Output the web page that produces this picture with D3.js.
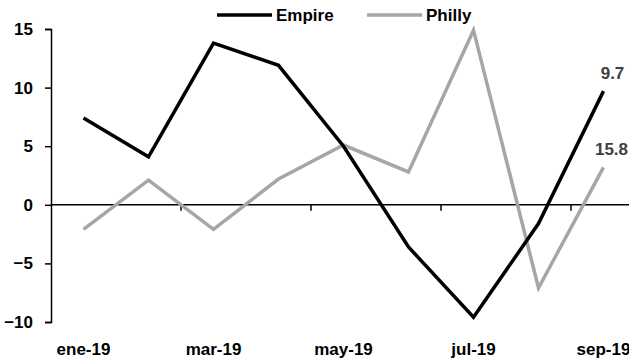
<!DOCTYPE html>
<html>
<head>
<meta charset="utf-8">
<script src="https://cdn.jsdelivr.net/npm/d3@7"></script>
<style>
  body { margin: 0; background: #fff; }
  svg { display: block; font-family: "Liberation Sans", Arial, sans-serif; font-weight: bold; }
</style>
</head>
<body>
<svg id="chart" width="629" height="360"></svg>
<script>
// data
const months = ['ene-19', 'feb-19', 'mar-19', 'abr-19', 'may-19', 'jun-19', 'jul-19', 'ago-19', 'sep-19'];
const empire = [7.4, 4.1, 13.8, 11.9, 5.0, -3.6, -9.6, -1.6, 9.7];
const philly = [-2.1, 2.1, -2.1, 2.2, 5.1, 2.8, 14.9, -7.1, 3.2];
const yTicks = [-10, -5, 0, 5, 10, 15];
const xLabels = ['ene-19', 'mar-19', 'may-19', 'jul-19', 'sep-19'];
const lastLabels = ['9.7', '15.8'];

const svg = d3.select('#chart');
const MARGIN = { left: 51, top: 29, bottom: 322 };
const FONT = '"Liberation Sans", Arial, sans-serif';

const x = d3.scaleBand()
    .domain(months)
    .range([MARGIN.left, MARGIN.left + 65 * months.length])
    .padding(0);

const y = d3.scaleLinear()
    .domain([-10, 15])
    .range([MARGIN.bottom, MARGIN.top]);

const cx = m => x(m) + x.bandwidth() / 2;

// y axis
let yAxis = d3.axisLeft(y).tickValues(yTicks).tickSize(6).tickPadding(12);
let yG = svg.append('g')
    .attr('transform', `translate(${MARGIN.left},0)`)
    .call(yAxis);
yG.select('.domain').attr('stroke', '#000').attr('stroke-width', 1.5);
yG.selectAll('.tick line').attr('stroke', '#000').attr('stroke-width', 1.5);
yG.selectAll('.tick text')
    .attr('fill', '#000')
    .style('font-size', '17px')
    .style('font-weight', 'bold')
    .style('font-family', FONT);

// zero line
svg.append('line')
    .attr('x1', MARGIN.left)
    .attr('x2', 629)
    .attr('y1', y(0))
    .attr('y2', y(0))
    .attr('stroke', '#000')
    .attr('stroke-width', 1.5);

// boundary ticks every two months
svg.selectAll('.xtick')
    .data(months.filter((d, i) => i % 2 === 1))
    .join('line')
    .attr('class', 'xtick')
    .attr('x1', d => x(d) + x.bandwidth())
    .attr('x2', d => x(d) + x.bandwidth())
    .attr('y1', y(0))
    .attr('y2', y(0) + 6)
    .attr('stroke', '#000')
    .attr('stroke-width', 1.5);

// x labels at the bottom
let xAxis = d3.axisBottom(x).tickValues(xLabels).tickSize(0).tickPadding(0);
let xG = svg.append('g')
    .attr('transform', 'translate(0,340)')
    .call(xAxis);
xG.select('.domain').remove();
xG.selectAll('.tick text')
    .attr('fill', '#000')
    .attr('dy', '0.88em')
    .style('font-size', '17px')
    .style('font-weight', 'bold')
    .style('font-family', FONT);

// lines
const line = d3.line()
    .x((d, i) => cx(months[i]))
    .y(d => y(d));

svg.append('path')
    .datum(philly)
    .attr('d', line)
    .attr('fill', 'none')
    .attr('stroke', '#a6a6a6')
    .attr('stroke-width', 3.5);

svg.append('path')
    .datum(empire)
    .attr('d', line)
    .attr('fill', 'none')
    .attr('stroke', '#000')
    .attr('stroke-width', 3.5);

// end labels
const last = months[months.length - 1];
svg.append('text')
    .attr('x', cx(last) + 9)
    .attr('y', y(empire[empire.length - 1]) - 12)
    .attr('text-anchor', 'middle')
    .attr('fill', '#404040')
    .style('font-size', '17px')
    .text(lastLabels[0]);

svg.append('text')
    .attr('x', cx(last) + 8)
    .attr('y', y(philly[philly.length - 1]) - 12)
    .attr('text-anchor', 'middle')
    .attr('fill', '#404040')
    .style('font-size', '17px')
    .text(lastLabels[1]);

// legend
const legend = [
    { name: 'Empire', color: '#000', x: 217 },
    { name: 'Philly', color: '#a6a6a6', x: 367 }
];
let lg = svg.selectAll('.legend')
    .data(legend)
    .join('g')
    .attr('class', 'legend')
    .attr('transform', d => `translate(${d.x},15)`);
lg.append('line')
    .attr('x1', 0)
    .attr('x2', 55)
    .attr('stroke', d => d.color)
    .attr('stroke-width', 3.5);
lg.append('text')
    .attr('x', 59)
    .attr('y', 6)
    .attr('fill', '#000')
    .style('font-size', '17px')
    .text(d => d.name);
</script>
</body>
</html>
